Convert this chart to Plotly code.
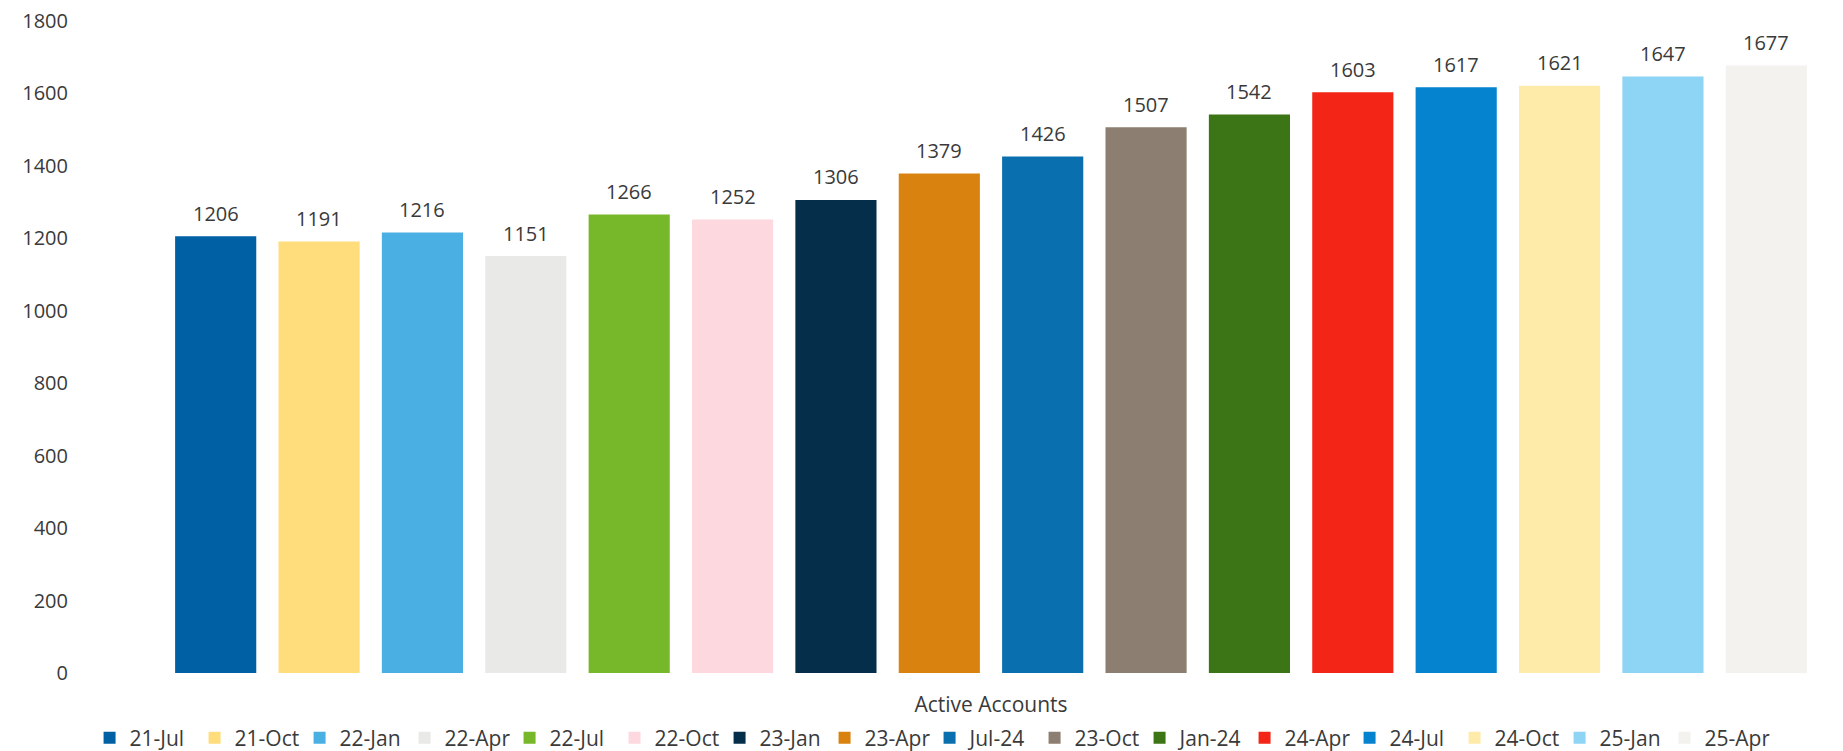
import plotly.graph_objects as go

# Quarterly snapshots of active accounts
periods = ["21-Jul", "21-Oct", "22-Jan", "22-Apr", "22-Jul", "22-Oct", "23-Jan", "23-Apr",
           "Jul-24", "23-Oct", "Jan-24", "24-Apr", "24-Jul", "24-Oct", "25-Jan", "25-Apr"]
active_accounts = [1206, 1191, 1216, 1151, 1266, 1252, 1306, 1379,
                   1426, 1507, 1542, 1603, 1617, 1621, 1647, 1677]
bar_colors = ["#0060A4", "#FFDD7C", "#4AB0E4", "#E9E9E7", "#76B82A", "#FDD8DE", "#052E4B", "#DA820F",
              "#0A6FAE", "#8C7E70", "#3C7515", "#F22516", "#0583CE", "#FEEBA9", "#8ED4F4", "#F3F2EE"]
y_ticks = [0, 200, 400, 600, 800, 1000, 1200, 1400, 1600, 1800]

FONT = "Open Sans"
TEXT_COLOR = "#3a3a3a"

fig = go.Figure()
for name, val, col in zip(periods, active_accounts, bar_colors):
    fig.add_trace(go.Bar(
        x=[name], y=[val], name=name,
        marker=dict(color=col, line=dict(width=0)),
        hoverinfo="name+y",
    ))

# value labels above each bar
for name, val in zip(periods, active_accounts):
    fig.add_annotation(
        x=name, y=val, text=str(val), showarrow=False,
        yanchor="middle", yshift=23,
        font=dict(family=FONT, size=20, color=TEXT_COLOR),
    )

fig.update_layout(
    width=1843, height=751,
    margin=dict(l=164, r=25, t=21, b=78, autoexpand=False),
    paper_bgcolor="white", plot_bgcolor="white",
    barmode="relative", bargap=0.215,
    font=dict(family=FONT, size=20, color=TEXT_COLOR),
    showlegend=True,
    legend=dict(
        orientation="h", x=-0.045, xanchor="left", y=-0.1, yanchor="middle",
        font=dict(family=FONT, size=21, color=TEXT_COLOR),
        entrywidth=60, itemwidth=30, traceorder="normal",
        bgcolor="rgba(0,0,0,0)",
    ),
    xaxis=dict(
        showticklabels=False, showgrid=False, zeroline=False, showline=False,
        ticks="", automargin=False,
        title=dict(text="Active Accounts", standoff=24,
                   font=dict(family=FONT, size=21, color=TEXT_COLOR)),
    ),
    yaxis=dict(
        range=[0, 1800], tickvals=y_ticks, showgrid=False, zeroline=False,
        showline=False, ticks="", automargin=False, ticklabelstandoff=95,
        tickfont=dict(family=FONT, size=20, color=TEXT_COLOR),
    ),
)

fig.write_html("out.html")
